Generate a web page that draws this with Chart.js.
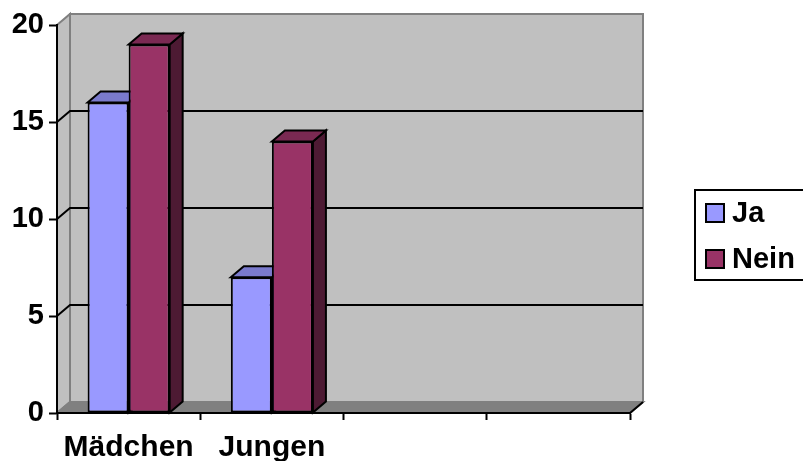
<!DOCTYPE html>
<html>
<head>
<meta charset="utf-8">
<script src="https://cdn.jsdelivr.net/npm/chart.js"></script>
<style>
body { margin: 0; background: #fff; }
#wrap { width: 803px; height: 461px; position: relative; }
</style>
</head>
<body>
<div id="wrap"><canvas id="chart-area"></canvas></div>
<script>
var categories = ['Mädchen', 'Jungen', '', ''];
var seriesNames = ['Ja', 'Nein'];
var jaValues = [16, 7, null, null];
var neinValues = [19, 14, null, null];
var yTicks = [0, 5, 10, 15, 20];

var frontColors = ['#9999ff', '#993366'];
var topColors = ['#7a7acc', '#7a2952'];
var sideColors = ['#4d4d80', '#4d1a33'];
var FONT = '"Liberation Sans", Arial, sans-serif';
var DX = 13, DY = -11;

function poly(ctx, pts, fill, stroke, lw) {
	ctx.beginPath();
	ctx.moveTo(pts[0][0], pts[0][1]);
	for (var i = 1; i < pts.length; i++) ctx.lineTo(pts[i][0], pts[i][1]);
	ctx.closePath();
	if (fill) { ctx.fillStyle = fill; ctx.fill(); }
	if (stroke) { ctx.strokeStyle = stroke; ctx.lineWidth = lw; ctx.lineJoin = 'miter'; ctx.stroke(); }
}

var box3d = {
	id: 'box3d',
	beforeDraw: function(chart) {
		var ctx = chart.ctx, a = chart.chartArea, ys = chart.scales.y;
		var L = a.left, R = a.right, T = a.top, B = a.bottom;
		ctx.save();
		// back wall, side wall, floor
		poly(ctx, [[L + DX, T + DY], [R + DX, T + DY], [R + DX, B + DY], [L + DX, B + DY]], '#c0c0c0', '#808080', 2);
		poly(ctx, [[L, T], [L + DX, T + DY], [L + DX, B + DY], [L, B]], '#c0c0c0', '#808080', 2);
		poly(ctx, [[L, B], [L + DX, B + DY], [R + DX, B + DY], [R, B]], '#808080', '#808080', 2);
		ctx.beginPath();
		ctx.moveTo(R, B); ctx.lineTo(R + DX, B + DY);
		ctx.strokeStyle = '#000'; ctx.lineWidth = 2; ctx.stroke();
		// grid lines on the walls
		yTicks.forEach(function(v) {
			if (v === yTicks[0] || v === yTicks[yTicks.length - 1]) return;
			var y = ys.getPixelForValue(v);
			ctx.beginPath();
			ctx.moveTo(L, y); ctx.lineTo(L + DX, y + DY); ctx.lineTo(R + DX, y + DY);
			ctx.strokeStyle = '#000'; ctx.lineWidth = 2; ctx.stroke();
		});
		ctx.restore();
	},
	beforeDatasetsDraw: function(chart) {
		var ctx = chart.ctx;
		ctx.save();
		chart.data.datasets.forEach(function(ds, di) {
			var meta = chart.getDatasetMeta(di);
			meta.data.forEach(function(bar, i) {
				if (ds.data[i] == null) return;
				var p = bar.getProps(['x', 'y', 'base', 'width'], true);
				var l = p.x - p.width / 2, r = p.x + p.width / 2, t = p.y, b = p.base;
				poly(ctx, [[r, t], [r + DX, t + DY], [r + DX, b + DY], [r, b]], sideColors[di], '#000', 2);
				poly(ctx, [[l, t], [l + DX, t + DY], [r + DX, t + DY], [r, t]], topColors[di], '#000', 2);
			});
		});
		ctx.restore();
	},
	afterDraw: function(chart) {
		var ctx = chart.ctx;
		ctx.save();
		ctx.strokeStyle = '#000'; ctx.lineWidth = 2;
		ctx.strokeRect(695, 190, 130, 90);
		ctx.font = 'bold 29px ' + FONT;
		ctx.textBaseline = 'middle';
		ctx.textAlign = 'left';
		seriesNames.forEach(function(name, i) {
			var cy = 213 + i * 46;
			ctx.fillStyle = frontColors[i];
			ctx.fillRect(706, cy - 9, 18, 18);
			ctx.strokeRect(706, cy - 9, 18, 18);
			ctx.fillStyle = '#000';
			ctx.fillText(name, 732, cy + 1);
		});
		ctx.restore();
	}
};

var config = {
	type: 'bar',
	data: {
		labels: categories,
		datasets: [{
			label: seriesNames[0],
			data: jaValues,
			backgroundColor: frontColors[0]
		}, {
			label: seriesNames[1],
			data: neinValues,
			backgroundColor: frontColors[1]
		}]
	},
	options: {
		responsive: true,
		maintainAspectRatio: false,
		animation: false,
		layout: { padding: { top: 25, right: 173, left: 0, bottom: 0 } },
		datasets: {
			bar: {
				borderColor: '#000',
				borderWidth: 2,
				borderSkipped: false,
				categoryPercentage: 0.573,
				barPercentage: 1
			}
		},
		plugins: {
			legend: { display: false },
			tooltip: { enabled: false }
		},
		scales: {
			x: {
				afterFit: function(s) { s.height = 48; },
				border: { display: true, color: '#000', width: 2 },
				grid: { offset: true, drawOnChartArea: false, drawTicks: true, tickLength: 7, tickColor: '#000', tickWidth: 2 },
				ticks: { color: '#000', font: { family: FONT, size: 30, weight: 'bold' }, maxRotation: 0, autoSkip: false, padding: 10 }
			},
			y: {
				min: 0,
				max: 20,
				afterFit: function(s) { s.width = 57; },
				border: { display: true, color: '#000', width: 2 },
				grid: { drawOnChartArea: false, drawTicks: true, tickLength: 8, tickColor: '#000', tickWidth: 2 },
				ticks: { stepSize: 5, color: '#000', font: { family: FONT, size: 29, weight: 'bold' }, padding: 5 }
			}
		}
	},
	plugins: [box3d]
};

window.myBar = new Chart(document.getElementById('chart-area').getContext('2d'), config);
</script>
</body>
</html>
